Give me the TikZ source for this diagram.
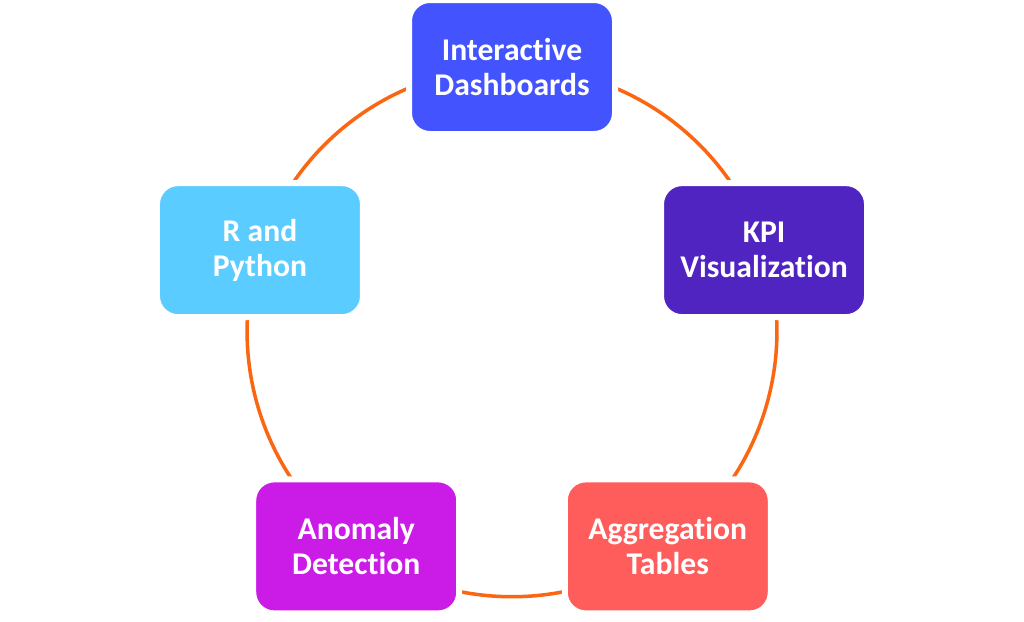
\documentclass[tikz,border=0pt]{standalone}
\usepackage{fontspec}
\setmainfont{Carlito}[Ligatures=NoCommon]
\usepackage{xcolor}
\usepackage{tikz}
\usetikzlibrary{positioning,backgrounds}

\definecolor{ringorange}{HTML}{FA6612}
\definecolor{dashblue}{HTML}{4354FF}
\definecolor{kpipurple}{HTML}{4F24C0}
\definecolor{aggred}{HTML}{FF5C5C}
\definecolor{anomagenta}{HTML}{CA1BE7}
\definecolor{pyblue}{HTML}{5BCCFF}

\begin{document}
\begin{tikzpicture}[
    box/.style={rounded corners=0.525cm, draw=white, line width=0.15cm,
        minimum width=5.15cm, minimum height=3.35cm, align=center, text=white,
        font=\fontsize{22.5pt}{25pt}\selectfont\bfseries},
    link/.style={draw=ringorange, line width=2.5pt}
]
    \useasboundingbox (0,0) rectangle (25.6,-15.525);

    % the five boxes round the ring
    \node [box, fill=dashblue]   (dash) at (12.8, -1.675)     {Interactive\\Dashboards};
    \node [box, fill=kpipurple]  (kpi)  at (19.1008, -6.2528) {KPI\\Visualization};
    \node [box, fill=aggred]     (agg)  at (16.6941, -13.6597) {Aggregation\\Tables};
    \node [box, fill=anomagenta] (anom) at (8.9059, -13.6597) {Anomaly\\Detection};
    \node [box, fill=pyblue]     (py)   at (6.4992, -6.2528)  {R and\\Python};

    % ring segments
    \begin{pgfonlayer}{background}
        \draw [link] (dash.center) to[bend left=36, looseness=0.94] (kpi.center);
        \draw [link] (kpi.center)  to[bend left=36, looseness=0.94] (agg.center);
        \draw [link] (agg.center)  to[bend left=36, looseness=0.94] (anom.center);
        \draw [link] (anom.center) to[bend left=36, looseness=0.94] (py.center);
        \draw [link] (py.center)   to[bend left=36, looseness=0.94] (dash.center);
    \end{pgfonlayer}
\end{tikzpicture}
\end{document}
